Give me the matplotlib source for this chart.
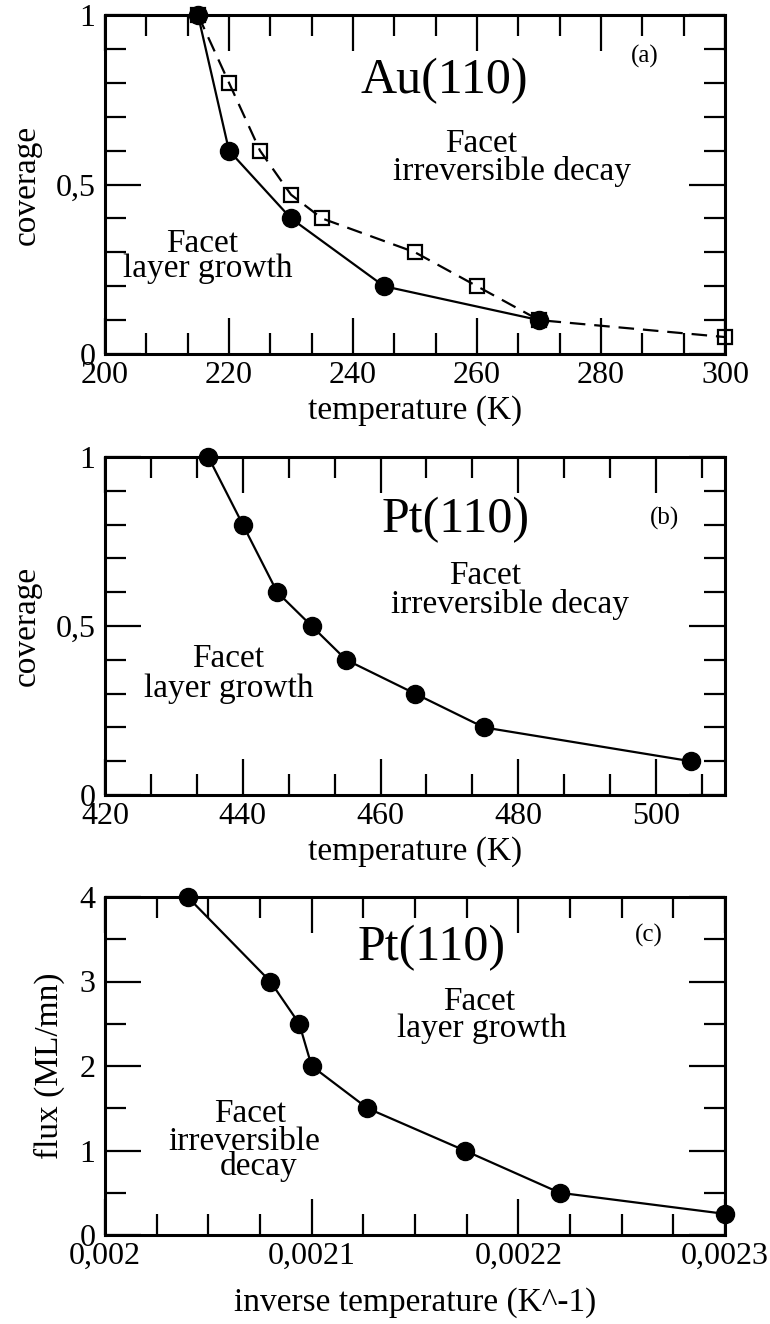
import numpy as np
import matplotlib
matplotlib.use('Agg')
from matplotlib import pyplot as plt
from matplotlib.ticker import MultipleLocator, FuncFormatter

# panel (a) Au(110)
au_T_layer = [215, 220, 230, 245, 270]
au_cov_layer = [1.0, 0.6, 0.4, 0.2, 0.1]
au_T_decay = [215, 220, 225, 230, 235, 250, 260, 270, 300]
au_cov_decay = [1.0, 0.8, 0.6, 0.47, 0.4, 0.3, 0.2, 0.1, 0.05]

# panel (b) Pt(110)
pt_T = [435, 440, 445, 450, 455, 465, 475, 505]
pt_cov = [1.0, 0.8, 0.6, 0.5, 0.4, 0.3, 0.2, 0.1]

# panel (c) Pt(110) flux vs inverse temperature
pt_invT = [0.00204, 0.00208, 0.002094, 0.0021, 0.002127, 0.002174, 0.00222, 0.0023]
pt_flux = [4.0, 3.0, 2.5, 2.0, 1.5, 1.0, 0.5, 0.25]

plt.rcParams['font.family'] = ['Liberation Serif', 'DejaVu Serif']

W, H = 770, 1324


def comma(v, pos):
    s = ('%.4f' % v).rstrip('0').rstrip('.')
    return s.replace('.', ',')


def make_axes(fig, top, bottom, left=105, right=725):
    ax = fig.add_axes([left / W, (H - bottom) / H, (right - left) / W, (bottom - top) / H])
    for sp in ax.spines.values():
        sp.set_linewidth(2.2)
    ax.tick_params(which='both', direction='in', top=True, right=True, width=1.6,
                   labelsize=23)
    ax.tick_params(which='major', length=26)
    ax.tick_params(which='minor', length=15)
    ax.tick_params(axis='x', pad=5)
    ax.tick_params(axis='y', pad=7)
    ax.xaxis.set_major_formatter(FuncFormatter(comma))
    ax.yaxis.set_major_formatter(FuncFormatter(comma))
    return ax


def label(ax, x, y, s, size=24):
    ax.text(x, y, s, transform=ax.transAxes, ha='center', va='baseline', fontsize=size)


fig = plt.figure(figsize=(W / 100, H / 100), dpi=100)
line_kw = dict(color='black', lw=1.6, clip_on=False)

# (a)
ax1 = make_axes(fig, 15, 354)
ax1.plot(au_T_layer, au_cov_layer, marker='o', ms=13, mfc='black', mec='black', **line_kw)
ax1.plot(au_T_decay, au_cov_decay, ls=(0, (7, 4)), marker='s', ms=10.5, mfc='none',
         mec='black', mew=1.6, **line_kw)
ax1.set_xlim(200, 300)
ax1.set_ylim(0, 1)
ax1.xaxis.set_major_locator(MultipleLocator(20))
ax1.xaxis.set_minor_locator(MultipleLocator(20 / 3))
ax1.yaxis.set_major_locator(MultipleLocator(0.5))
ax1.yaxis.set_minor_locator(MultipleLocator(0.1))
ax1.set_xlabel('temperature (K)', fontsize=24, labelpad=4)
ax1.set_ylabel('coverage', fontsize=24, labelpad=10)
label(ax1, 0.548, 0.770, 'Au(110)', 36)
label(ax1, 0.871, 0.861, '(a)', 18)
label(ax1, 0.606, 0.596, 'Facet')
label(ax1, 0.656, 0.513, 'irreversible decay')
label(ax1, 0.156, 0.301, 'Facet')
label(ax1, 0.165, 0.227, 'layer growth')

# (b)
ax2 = make_axes(fig, 457, 795)
ax2.plot(pt_T, pt_cov, marker='o', ms=13, mfc='black', mec='black', **line_kw)
ax2.set_xlim(420, 510)
ax2.set_ylim(0, 1)
ax2.xaxis.set_major_locator(MultipleLocator(20))
ax2.xaxis.set_minor_locator(MultipleLocator(20 / 3))
ax2.yaxis.set_major_locator(MultipleLocator(0.5))
ax2.yaxis.set_minor_locator(MultipleLocator(0.1))
ax2.set_xlabel('temperature (K)', fontsize=24, labelpad=4)
ax2.set_ylabel('coverage', fontsize=24, labelpad=10)
label(ax2, 0.565, 0.778, 'Pt(110)', 36)
label(ax2, 0.903, 0.799, '(b)', 18)
label(ax2, 0.613, 0.624, 'Facet')
label(ax2, 0.653, 0.538, 'irreversible decay')
label(ax2, 0.198, 0.379, 'Facet')
label(ax2, 0.200, 0.290, 'layer growth')

# (c)
ax3 = make_axes(fig, 897, 1235)
ax3.plot(pt_invT, pt_flux, marker='o', ms=13, mfc='black', mec='black', **line_kw)
ax3.set_xlim(0.002, 0.0023)
ax3.set_ylim(0, 4)
ax3.xaxis.set_major_locator(MultipleLocator(0.0001))
ax3.xaxis.set_minor_locator(MultipleLocator(0.000025))
ax3.yaxis.set_major_locator(MultipleLocator(1))
ax3.yaxis.set_minor_locator(MultipleLocator(0.5))
ax3.set_xlabel('inverse temperature (K^-1)', fontsize=24, labelpad=12)
ax3.set_ylabel('flux (ML/mn)', fontsize=24, labelpad=10)
label(ax3, 0.527, 0.814, 'Pt(110)', 36)
label(ax3, 0.877, 0.867, '(c)', 18)
label(ax3, 0.603, 0.666, 'Facet')
label(ax3, 0.607, 0.586, 'layer growth')
label(ax3, 0.234, 0.334, 'Facet')
label(ax3, 0.224, 0.251, 'irreversible')
label(ax3, 0.248, 0.178, 'decay')

fig.savefig('out.png', dpi=100)
